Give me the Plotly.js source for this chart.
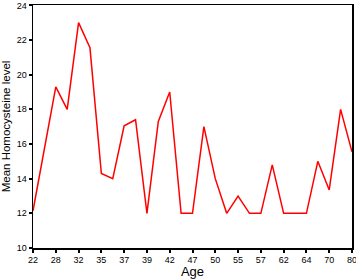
<!DOCTYPE html>
<html>
<head>
<meta charset="utf-8">
<script src="https://cdn.plot.ly/plotly-3.0.1.min.js"></script>
<style>html,body{margin:0;padding:0;background:#fff}#chart{width:356px;height:279px}</style>
</head>
<body>
<div id="chart"></div>
<script>
// Age categories (every other one labelled on the axis)
const ages = ["22","25","28","30","32","33","35","36","37","38","39","40","42","45","47","48","50","52","55","56","57","60","62","63","64","65","70","75","80"];
const meanHcy = [12.15,15.7,19.3,18.0,23.0,21.55,14.3,14.0,17.05,17.4,12.0,17.3,19.0,12.0,12.0,17.0,14.0,12.0,13.0,12.0,12.0,14.8,12.0,12.0,12.0,15.0,13.35,18.0,15.55];
const tickAges = ["22","28","32","35","37","39","42","47","50","55","57","62","64","70","80"];
const yTicks = [10,12,14,16,18,20,22,24];

const trace = {
  x: ages, y: meanHcy, type: 'scatter', mode: 'lines',
  line: {color: '#ff0000', width: 1.5}, hoverinfo: 'none'
};
const fnt = {family: 'Liberation Sans, Arial, sans-serif', color: '#000'};
const layout = {
  width: 356, height: 279,
  margin: {l: 33, r: 4, t: 5, b: 31},
  paper_bgcolor: '#fff', plot_bgcolor: '#fff',
  showlegend: false,
  xaxis: {
    type: 'category', range: [0, ages.length - 1],
    tickvals: tickAges, ticktext: tickAges,
    showgrid: false, zeroline: false,
    showline: true, mirror: true, linecolor: '#000', linewidth: 1.5,
    ticks: 'outside', ticklen: 3, tickwidth: 2, tickcolor: '#000',
    tickfont: Object.assign({size: 9}, fnt), ticklabeloverflow: 'allow',
    title: {text: 'Age', font: Object.assign({size: 13}, fnt), standoff: 3}
  },
  yaxis: {
    range: [10, 24.02], tickvals: yTicks,
    showgrid: false, zeroline: false,
    showline: true, mirror: true, linecolor: '#000', linewidth: 1.5,
    ticks: 'outside', ticklen: 3, tickwidth: 2, tickcolor: '#000',
    tickfont: Object.assign({size: 9}, fnt), ticklabeloverflow: 'allow',
    title: {text: 'Mean Homocysteine level', font: Object.assign({size: 11.5}, fnt), standoff: 6}
  }
};
Plotly.newPlot('chart', [trace], layout, {staticPlot: true, displayModeBar: false});
</script>
</body>
</html>
